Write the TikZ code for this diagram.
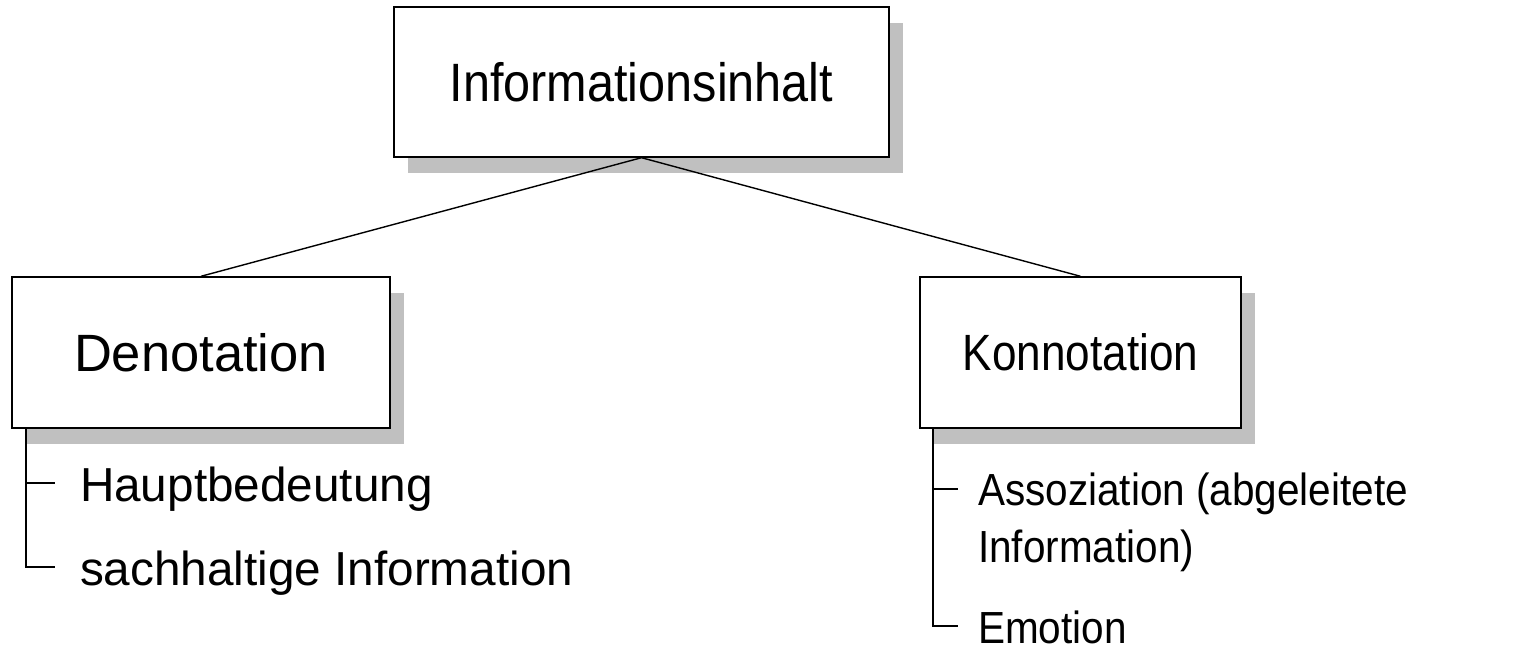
\documentclass[tikz,border=0pt]{standalone}
\usepackage{fontspec}
\setmainfont{Liberation Sans}
\usetikzlibrary{shadows}
\definecolor{shadowgray}{RGB}{192,192,192}
\tikzset{
  box/.style={draw=black, line width=1.4pt, fill=white, rectangle, inner sep=0pt,
    drop shadow={shadow xshift=14pt, shadow yshift=-16pt, fill=shadowgray, opacity=1}},
  conn/.style={draw=black, line width=1.4pt},
  item/.style={anchor=base west, inner sep=0pt, outer sep=0pt},
}
\begin{document}
\begin{tikzpicture}[x=1pt, y=-1pt]
\useasboundingbox (0,0) rectangle (1517,652);
% boxes
\node[box, minimum width=495pt, minimum height=150pt] (info) at (641.5,82)
  {\fontsize{54}{60}\selectfont\scalebox{0.9}[1]{Informationsinhalt}};
\node[box, minimum width=378pt, minimum height=151pt] (den) at (201,352.5)
  {\fontsize{52.5}{60}\selectfont Denotation};
\node[box, minimum width=321pt, minimum height=151pt] (kon) at (1080.5,352.5)
  {\fontsize{51}{60}\selectfont\scalebox{0.865}[1]{Konnotation}};
% connectors
\draw[conn] (info.south) -- (den.north);
\draw[conn] (info.south) -- (kon.north);
% left list
\node[item] (d1) at (80,501) {\fontsize{47.7}{57}\selectfont Hauptbedeutung};
\node[item] (d2) at (80,585) {\fontsize{47.7}{57}\selectfont sachhaltige Information};
\coordinate (dtop) at (26,428);
\coordinate (dt1) at (55,483);
\coordinate (dt2) at (55,567);
\draw[conn] (dtop) |- (dt2);
\draw[conn] (dt1 -| dtop) -- (dt1);
% right list
\node[item] (k1) at (978,505) {\fontsize{45}{57}\selectfont\scalebox{0.9}[1]{Assoziation (abgeleitete}};
\node[item] (k1b) at (978,562) {\fontsize{45}{57}\selectfont\scalebox{0.9}[1]{Information)}};
\node[item, text depth=0pt] (k2) at (978,643) {\fontsize{45}{57}\selectfont\scalebox{0.9}[1]{Emotion}};
\coordinate (ktop) at (933,428);
\coordinate (kt1) at (958,489);
\coordinate (kt2) at (958,626);
\draw[conn] (ktop) |- (kt2);
\draw[conn] (kt1 -| ktop) -- (kt1);
\end{tikzpicture}
\end{document}
